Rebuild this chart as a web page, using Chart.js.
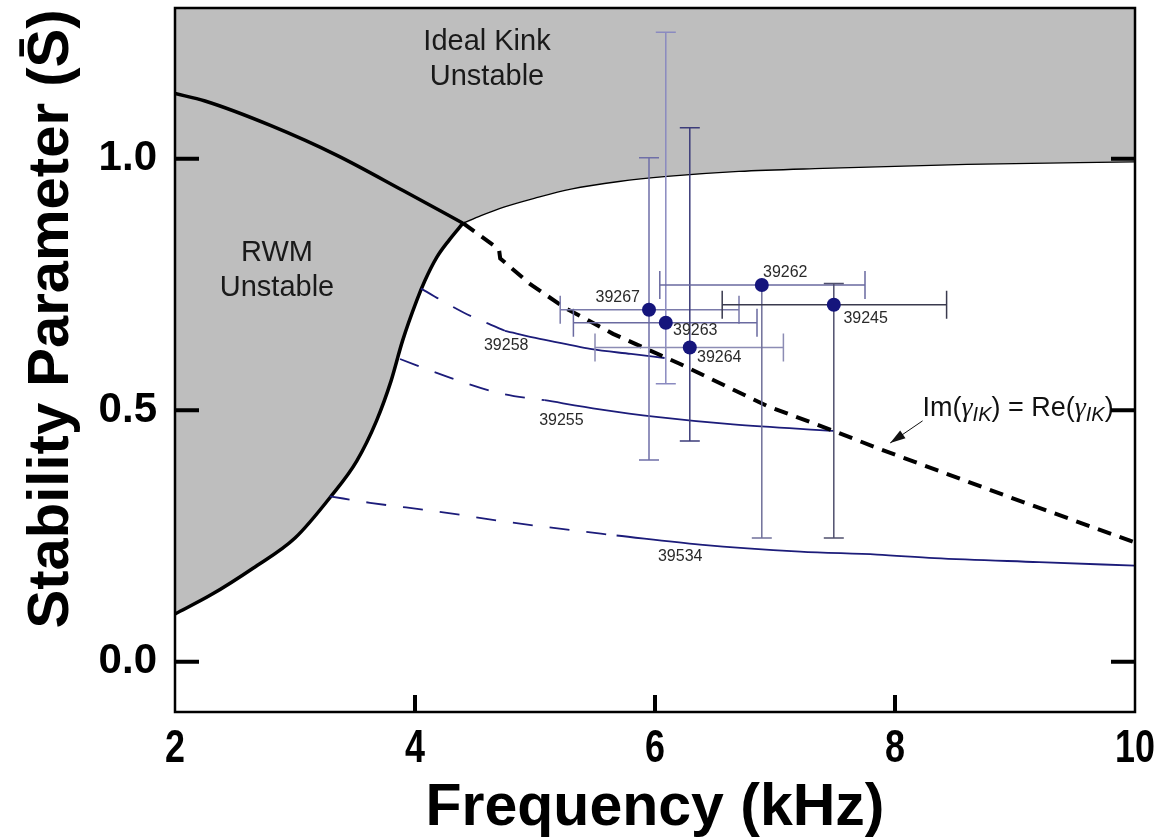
<!DOCTYPE html>
<html>
<head>
<meta charset="utf-8">
<script src="https://cdn.jsdelivr.net/npm/chart.js@4.4.0/dist/chart.umd.min.js"></script>
<style>
  html, body { margin: 0; padding: 0; background: #fff; }
  #wrap { width: 1154px; height: 840px; }
</style>
</head>
<body>
<div id="wrap"><canvas id="chart" width="1154" height="840"></canvas></div>
<script>
'use strict';
// ---- data (frequency in kHz, stability parameter S) ----
const xTicks = [2, 4, 6, 8, 10];
const yTicks = [0.0, 0.5, 1.0];

// measured shots
const shotNames = ['39267', '39263', '39264', '39262', '39245'];
const shotFreq = [5.95, 6.09, 6.29, 6.89, 7.49];
const shotS = [0.700, 0.674, 0.625, 0.749, 0.710];
const freqLow = [5.21, 5.32, 5.50, 6.04, 6.56];
const freqHigh = [6.70, 6.85, 7.07, 7.75, 8.43];
const sLow = [0.401, 0.553, 0.439, 0.246, 0.246];
const sHigh = [1.002, 1.252, 1.062, 0.749, 0.752];

// stability boundaries
const kinkLimitF = [2.0, 2.25, 2.8, 3.35, 3.9, 4.40];
const kinkLimitS = [1.13, 1.115, 1.066, 1.007, 0.937, 0.872];
const idealF = [4.40, 4.55, 4.74, 5.0, 5.3, 5.7, 6.1, 6.7, 7.4, 8.6, 10.0];
const idealS = [0.872, 0.887, 0.904, 0.922, 0.940, 0.955, 0.965, 0.975, 0.981, 0.989, 0.994];
const rwmF = [2.0, 2.3, 2.65, 3.0, 3.3, 3.514, 3.679, 3.80, 3.896, 4.014, 4.083, 4.181, 4.283, 4.40];
const rwmS = [0.095, 0.133, 0.186, 0.246, 0.329, 0.399, 0.479, 0.558, 0.638, 0.718, 0.758, 0.804, 0.838, 0.872];

// Im(gamma) = Re(gamma) line
const crossF = [4.40, 4.55, 4.70, 4.71, 4.96, 5.24, 5.65, 6.21, 6.60, 6.93, 7.49, 7.85, 8.97, 10.0];
const crossS = [0.872, 0.846, 0.820, 0.802, 0.751, 0.705, 0.652, 0.592, 0.547, 0.509, 0.459, 0.425, 0.326, 0.237];

// shot trajectories (dashed part, then solid part)
const curveNames = ['39258', '39255', '39534'];
const c39258DashF = [4.05, 4.40, 4.75];
const c39258DashS = [0.742, 0.695, 0.658];
const c39258F = [4.75, 5.04, 5.29, 5.46, 5.80, 6.08];
const c39258S = [0.658, 0.642, 0.630, 0.622, 0.612, 0.604];
const c39255DashF = [3.875, 4.29, 4.74, 5.08];
const c39255DashS = [0.602, 0.565, 0.532, 0.520];
const c39255F = [5.08, 5.54, 6.01, 6.65, 7.49];
const c39255S = [0.520, 0.502, 0.487, 0.472, 0.459];
const c39534DashF = [3.29, 3.625, 4.18, 4.74, 5.29, 5.68];
const c39534DashS = [0.329, 0.316, 0.299, 0.279, 0.262, 0.251];
const c39534F = [5.68, 6.375, 7.21, 7.85, 8.33, 9.2, 10.0];
const c39534S = [0.251, 0.233, 0.219, 0.213, 0.206, 0.198, 0.191];

// ---- styling ----
const GRAY = '#bebebe';
const NAVY = '#1c1c7a';
const vBarColors = ['#6f6fa8', '#8a8ac0', '#3c3c7a', '#70709a', '#50506e'];
const hBarColors = ['#7a7aaa', '#6a6aa0', '#8c8cb4', '#6a6aa0', '#3a3a4e'];
const FONT = "'Liberation Sans', Arial, Helvetica, sans-serif";

// label spots in data units
const shotLabelPos = [[5.875, 0.724, 'right'], [6.15, 0.658, 'left'], [6.35, 0.604, 'left'], [6.90, 0.774, 'left'], [7.57, 0.682, 'left']];
const curveLabelPos = [[4.76, 0.628], [5.22, 0.479], [6.21, 0.209]];

function pts(xs, ys) {
  return xs.map((x, i) => ({x: x, y: ys[i]}));
}

function lineSet(label, xs, ys, color, width, dash, order) {
  return {
    label: label,
    data: pts(xs, ys),
    borderColor: color,
    borderWidth: width,
    borderDash: dash || [],
    pointRadius: 0,
    fill: false,
    cubicInterpolationMode: 'monotone',
    order: order
  };
}

const datasets = [
  {
    label: 'ideal kink region',
    data: pts(kinkLimitF.concat(idealF.slice(1)), kinkLimitS.concat(idealS.slice(1))),
    fill: 'end', backgroundColor: GRAY, borderWidth: 0, pointRadius: 0,
    cubicInterpolationMode: 'monotone', order: 10
  },
  {
    label: 'rwm region',
    data: pts(rwmF, rwmS),
    fill: 'end', backgroundColor: GRAY, borderWidth: 0, pointRadius: 0,
    cubicInterpolationMode: 'monotone', order: 10
  },
  lineSet('kink limit', kinkLimitF, kinkLimitS, '#000', 3.5, null, 6),
  lineSet('ideal boundary', idealF, idealS, '#000', 1.3, null, 6),
  lineSet('rwm boundary', rwmF, rwmS, '#000', 3.5, null, 6),
  lineSet('39258 dash', c39258DashF, c39258DashS, NAVY, 1.8, [20, 17], 5),
  lineSet('39258', c39258F, c39258S, NAVY, 1.8, null, 5),
  lineSet('39255 dash', c39255DashF, c39255DashS, NAVY, 1.8, [20, 17], 5),
  lineSet('39255', c39255F, c39255S, NAVY, 1.8, null, 5),
  lineSet('39534 dash', c39534DashF, c39534DashS, NAVY, 1.8, [20, 17], 5),
  lineSet('39534', c39534F, c39534S, NAVY, 1.8, null, 5),
  {
    label: 'Im=Re',
    data: pts(crossF, crossS),
    borderColor: '#000', borderWidth: 4, borderDash: [14, 9],
    pointRadius: 0, fill: false, tension: 0, order: 4
  },
  {
    label: 'shots',
    data: pts(shotFreq, shotS),
    showLine: false, pointRadius: 7, pointHoverRadius: 7,
    pointBackgroundColor: '#15157c', pointBorderColor: '#15157c', pointBorderWidth: 0,
    order: 0
  }
];

// error bars drawn just before the shot markers
const errorBars = {
  id: 'errorBars',
  beforeDatasetDraw(chart, args) {
    if (chart.data.datasets[args.index].label !== 'shots') return;
    const xs = chart.scales.x, ys = chart.scales.y, ctx = chart.ctx;
    ctx.save();
    ctx.lineWidth = 1.5;
    for (let i = 0; i < shotNames.length; i++) {
      const x = xs.getPixelForValue(shotFreq[i]);
      const y = ys.getPixelForValue(shotS[i]);
      // vertical
      ctx.strokeStyle = vBarColors[i];
      const yLo = ys.getPixelForValue(sLow[i]);
      const yHi = ys.getPixelForValue(sHigh[i]);
      ctx.beginPath();
      ctx.moveTo(x, yLo); ctx.lineTo(x, yHi);
      ctx.moveTo(x - 10, yLo); ctx.lineTo(x + 10, yLo);
      if (sHigh[i] > shotS[i]) { ctx.moveTo(x - 10, yHi); ctx.lineTo(x + 10, yHi); }
      ctx.stroke();
      // horizontal
      ctx.strokeStyle = hBarColors[i];
      const xLo = xs.getPixelForValue(freqLow[i]);
      const xHi = xs.getPixelForValue(freqHigh[i]);
      ctx.beginPath();
      ctx.moveTo(xLo, y); ctx.lineTo(xHi, y);
      ctx.moveTo(xLo, y - 14); ctx.lineTo(xLo, y + 14);
      ctx.moveTo(xHi, y - 14); ctx.lineTo(xHi, y + 14);
      ctx.stroke();
    }
    ctx.restore();
  }
};

function drawText(ctx, text, x, y, font, align) {
  ctx.font = font;
  ctx.textAlign = align || 'center';
  ctx.fillText(text, x, y);
}

const labels = {
  id: 'labels',
  afterDatasetsDraw(chart) {
    const xs = chart.scales.x, ys = chart.scales.y, ctx = chart.ctx;
    ctx.save();
    ctx.textBaseline = 'middle';
    ctx.fillStyle = '#1a1a1a';
    // region names
    const big = '29px ' + FONT;
    drawText(ctx, 'Ideal Kink', xs.getPixelForValue(4.6), ys.getPixelForValue(1.232), big);
    drawText(ctx, 'Unstable', xs.getPixelForValue(4.6), ys.getPixelForValue(1.163), big);
    drawText(ctx, 'RWM', xs.getPixelForValue(2.85), ys.getPixelForValue(0.812), big);
    drawText(ctx, 'Unstable', xs.getPixelForValue(2.85), ys.getPixelForValue(0.744), big);
    // shot numbers
    ctx.fillStyle = '#2a2a2a';
    const small = '16px ' + FONT;
    shotNames.forEach((name, i) => {
      const p = shotLabelPos[i];
      drawText(ctx, name, xs.getPixelForValue(p[0]), ys.getPixelForValue(p[1]), small, p[2]);
    });
    curveNames.forEach((name, i) => {
      const p = curveLabelPos[i];
      drawText(ctx, name, xs.getPixelForValue(p[0]), ys.getPixelForValue(p[1]), small, 'center');
    });
    // Im(gamma_IK) = Re(gamma_IK) with arrow
    ctx.fillStyle = '#111';
    let tx = xs.getPixelForValue(8.23);
    const ty = ys.getPixelForValue(0.503);
    const parts = [
      ['Im(', '27px ' + FONT, 0],
      ['\u03B3', "italic 28px 'Liberation Serif', serif", 0],
      ['IK', 'italic 20px ' + FONT, 7],
      [') = Re(', '27px ' + FONT, 0],
      ['\u03B3', "italic 28px 'Liberation Serif', serif", 0],
      ['IK', 'italic 20px ' + FONT, 7],
      [')', '27px ' + FONT, 0]
    ];
    ctx.textAlign = 'left';
    parts.forEach(pt => {
      ctx.font = pt[1];
      ctx.fillText(pt[0], tx, ty + pt[2]);
      tx += ctx.measureText(pt[0]).width;
    });
    const ax0 = xs.getPixelForValue(8.23), ay0 = ys.getPixelForValue(0.479);
    const ax1 = xs.getPixelForValue(7.96), ay1 = ys.getPixelForValue(0.435);
    const ang = Math.atan2(ay1 - ay0, ax1 - ax0);
    ctx.strokeStyle = '#111';
    ctx.lineWidth = 1;
    ctx.beginPath();
    ctx.moveTo(ax0, ay0); ctx.lineTo(ax1, ay1);
    ctx.stroke();
    ctx.beginPath();
    ctx.moveTo(ax1, ay1);
    ctx.lineTo(ax1 - 16 * Math.cos(ang - 0.3), ay1 - 16 * Math.sin(ang - 0.3));
    ctx.lineTo(ax1 - 16 * Math.cos(ang + 0.3), ay1 - 16 * Math.sin(ang + 0.3));
    ctx.closePath();
    ctx.fill();
    ctx.restore();
  }
};

// frame, inward ticks, condensed x tick labels and the vertical axis title
const frame = {
  id: 'frame',
  afterDraw(chart) {
    const a = chart.chartArea, xs = chart.scales.x, ys = chart.scales.y, ctx = chart.ctx;
    ctx.save();
    ctx.strokeStyle = '#000';
    ctx.lineWidth = 2.5;
    ctx.strokeRect(a.left, a.top, a.right - a.left, a.bottom - a.top);
    ctx.lineWidth = 4;
    ctx.beginPath();
    yTicks.forEach(v => {
      const y = ys.getPixelForValue(v);
      ctx.moveTo(a.left, y); ctx.lineTo(a.left + 24, y);
      ctx.moveTo(a.right - 24, y); ctx.lineTo(a.right, y);
    });
    xTicks.slice(1, -1).forEach(v => {
      const x = xs.getPixelForValue(v);
      ctx.moveTo(x, a.bottom); ctx.lineTo(x, a.bottom - 17);
    });
    ctx.stroke();

    ctx.fillStyle = '#000';
    ctx.font = 'bold 46px ' + FONT;
    ctx.textAlign = 'center';
    ctx.textBaseline = 'alphabetic';
    xTicks.forEach(v => {
      ctx.save();
      ctx.translate(xs.getPixelForValue(v), a.bottom + 50);
      ctx.scale(0.78, 1);
      ctx.fillText(String(v), 0, 0);
      ctx.restore();
    });

    ctx.translate(52, 319);
    ctx.rotate(-Math.PI / 2);
    ctx.font = 'bold 58px ' + FONT;
    ctx.textBaseline = 'middle';
    ctx.fillText('Stability Parameter (S\u0304)', 0, 0);
    ctx.restore();
  }
};

function noPad(s) {
  s.paddingLeft = 0; s.paddingRight = 0; s.paddingTop = 0; s.paddingBottom = 0;
}

new Chart(document.getElementById('chart'), {
  type: 'line',
  data: {datasets: datasets},
  options: {
    responsive: false,
    animation: false,
    devicePixelRatio: 1,
    layout: {padding: {left: 0, right: 19, top: 8, bottom: 0}},
    plugins: {legend: {display: false}, tooltip: {enabled: false}},
    scales: {
      x: {
        type: 'linear', min: 2, max: 10,
        afterBuildTicks: s => { s.ticks = xTicks.map(v => ({value: v})); },
        afterFit: s => { s.height = 128; noPad(s); },
        grid: {display: false, drawTicks: false},
        border: {display: false},
        ticks: {display: false},
        title: {
          display: true, text: 'Frequency (kHz)', color: '#000',
          font: {family: FONT, size: 59, weight: 'bold', lineHeight: 1},
          padding: {top: 0, bottom: 2}
        }
      },
      y: {
        type: 'linear', min: -0.1, max: 1.3,
        afterBuildTicks: s => { s.ticks = yTicks.map(v => ({value: v})); },
        afterFit: s => { s.width = 175; noPad(s); },
        grid: {display: false, drawTicks: false},
        border: {display: false},
        ticks: {
          padding: 18, color: '#000',
          font: {family: FONT, size: 42, weight: 'bold'},
          callback: v => v.toFixed(1)
        }
      }
    }
  },
  plugins: [errorBars, labels, frame]
});
</script>
</body>
</html>
